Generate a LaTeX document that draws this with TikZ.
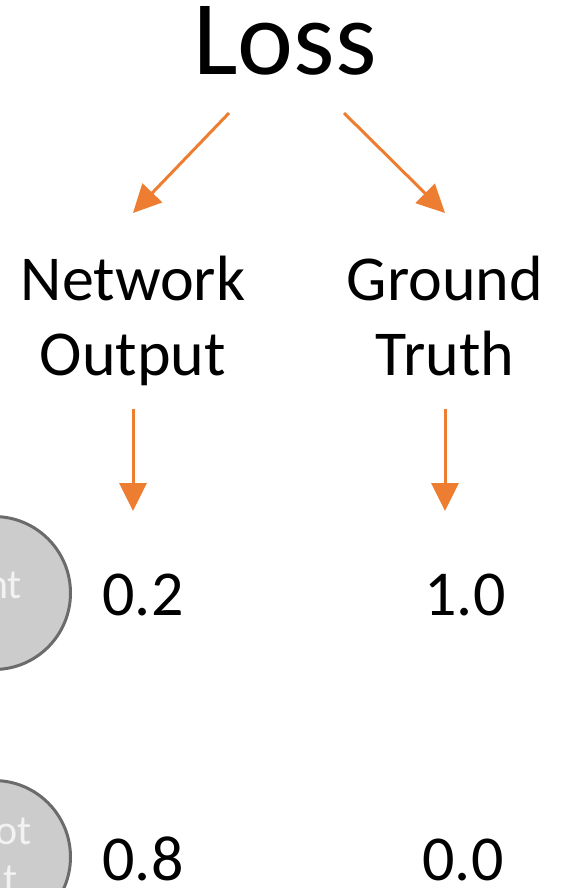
\documentclass[tikz,border=0pt]{standalone}
\usepackage{fontspec}
\setmainfont{Carlito}
\usetikzlibrary{arrows.meta}
\definecolor{accent}{HTML}{ED7D31}
\definecolor{cellfill}{HTML}{CCCCCC}
\definecolor{celledge}{HTML}{6B6B6B}
\begin{document}
\begin{tikzpicture}[x=1pt,y=-1pt,
  flow/.style={draw=accent,line width=3pt,-{Triangle[width=27pt,length=28pt]}},
  label/.style={font=\fontsize{64}{76}\selectfont,inner sep=0pt,anchor=base},
  value/.style={font=\fontsize{64}{76}\selectfont,inner sep=0pt,anchor=base},
  cell/.style={circle,draw=celledge,fill=cellfill,line width=3pt,minimum size=153pt},
  celltext/.style={font=\fontsize{42}{50}\selectfont,text=white!95!black,inner sep=0pt,anchor=base east}]
\useasboundingbox (0,0) rectangle (572,888);
\begin{scope}
\clip (0,0) rectangle (572,888);
% neurons cut by the left edge
\node[cell] (c1) at (-6,593) {};
\node[cell] (c2) at (-6,857) {};
\node[celltext] (t1) at (22,598) {nt};
\node[celltext] (t2) at (32,844) {ot};
\node[celltext] (t3) at (18,892) {t};
\end{scope}
% title and the two inputs of the loss
\node[inner sep=0pt,anchor=base,font=\fontsize{106}{116}\selectfont] (loss) at (285,75) {Loss};
\node[label] (net1) at (133,300) {Network};
\node[label] (net2) at (133,375) {Output};
\node[label] (gt1) at (445,300) {Ground};
\node[label] (gt2) at (445,375) {Truth};
% values
\node[value] (v1) at (143,615) {0.2};
\node[value] (v2) at (465,615) {1.0};
\node[value] (v3) at (143,880) {0.8};
\node[value] (v4) at (463,880) {0.0};
% connector ends
\coordinate (la) at (229,113);
\coordinate (lb) at (133,213);
\coordinate (ra) at (344,113);
\coordinate (rb) at (445,213);
\coordinate (na) at (133,409);
\coordinate (nb) at (133,511);
\coordinate (ga) at (445,409);
\coordinate (gb) at (445,511);
\draw[flow] (la) -- (lb);
\draw[flow] (ra) -- (rb);
\draw[flow] (na) -- (nb);
\draw[flow] (ga) -- (gb);
\end{tikzpicture}
\end{document}
